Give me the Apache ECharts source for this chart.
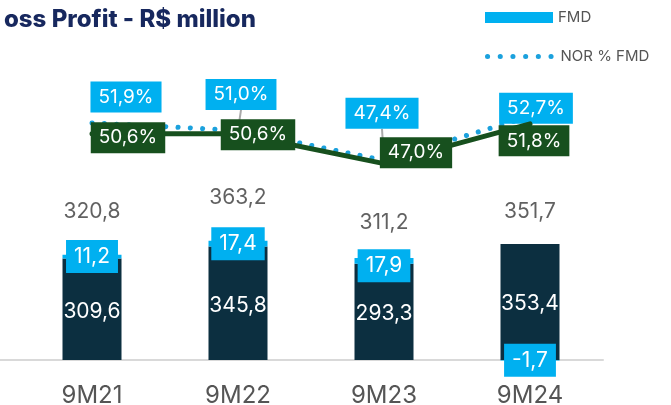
<!DOCTYPE html>
<html>
<head>
<meta charset="utf-8">
<script src="https://cdn.jsdelivr.net/npm/echarts@6/dist/echarts.min.js"></script>
<style>
  html, body { margin: 0; padding: 0; background: #fff; }
  #chart { width: 671px; height: 405px; }
</style>
</head>
<body>
<div id="chart"></div>
<script>
// data
const categories = ["9M21", "9M22", "9M23", "9M24"];
const baseValues = [309.6, 345.8, 293.3, 353.4];
const fmdValues = [11.2, 17.4, 17.9, -1.7];
const totalValues = [320.8, 363.2, 311.2, 351.7];
const norFmdPct = [51.9, 51.0, 47.4, 52.7];
const marginPct = [50.6, 50.6, 47.0, 51.8];

// label nudges (layout only)
const totalShift = [-43, -43, -35, -33];
const fmdShift = [0, 0, 5, 0];
const dotShift = [[34, -26], [3, -36], [-2, -47], [6, -8]];
const marginShift = [[36, 4], [20, 1], [32, -11], [4, 17]];

const NAVY = "#0c2f40";
const CYAN = "#00b0f0";
const DOT = "#1ba1dd";
const GREEN = "#17501e";
const AXIS = "#d9d9d9";
const FONT = "Inter";

function fmt(v, pct) {
  return v.toFixed(1).replace(".", ",") + (pct ? "%" : "");
}

let chart = echarts.init(document.getElementById("chart"));
chart.setOption({
  animation: false,
  textStyle: { fontFamily: FONT },
  title: {
    text: "oss Profit - R$ million",
    left: -1,
    top: 3,
    textStyle: { fontFamily: FONT, fontSize: 24, fontWeight: 800, color: "#17285e" },
  },
  legend: [
    {
      data: ["FMD"],
      left: 480,
      top: 5,
      icon: "rect",
      itemWidth: 68,
      itemHeight: 11,
      itemGap: 8,
      textStyle: { fontSize: 15, color: "#555" },
    },
    {
      data: [{ name: "NOR % FMD", itemStyle: { opacity: 0 } }],
      left: 480,
      top: 44,
      itemWidth: 68,
      itemHeight: 14,
      itemGap: 8,
      lineStyle: { width: 5, type: [0.1, 12.6], cap: "round", color: DOT },
      textStyle: { fontSize: 15, color: "#555" },
    },
  ],
  grid: { left: 19, width: 584, top: 32, height: 328, outerBoundsMode: "none", containLabel: false },
  xAxis: {
    type: "category",
    data: categories,
    axisTick: { show: false },
    axisLine: { show: true, lineStyle: { color: AXIS, width: 2 } },
    axisLabel: { fontSize: 24, color: "#555", margin: 24 },
  },
  yAxis: [
    { type: "value", min: 0, max: 1000, show: false },
    { type: "value", min: 23.34, max: 62.86, show: false },
  ],
  series: [
    {
      name: "Base",
      type: "bar",
      stack: "gp",
      barWidth: 59,
      clip: false,
      data: baseValues,
      itemStyle: { color: NAVY },
      label: {
        show: true,
        position: "inside",
        offset: [0, 2],
        color: "#fff",
        fontSize: 21,
        formatter: (p) => fmt(p.value),
      },
    },
    {
      name: "FMD",
      type: "bar",
      stack: "gp",
      barWidth: 59,
      clip: false,
      data: fmdValues,
      itemStyle: { color: CYAN },
      label: {
        show: true,
        position: "inside",
        color: "#fff",
        fontSize: 21,
        backgroundColor: CYAN,
        padding: [6, 8],
        formatter: (p) => fmt(p.value),
      },
      labelLayout: (p) => ({ dy: fmdShift[p.dataIndex] }),
    },
    {
      name: "Total",
      type: "scatter",
      symbolSize: 1,
      data: totalValues,
      itemStyle: { color: "rgba(0,0,0,0)" },
      label: {
        show: true,
        position: "inside",
        color: "#3a3a3a",
        fontSize: 21,
        formatter: (p) => fmt(p.value),
      },
      labelLayout: (p) => ({ dy: totalShift[p.dataIndex] }),
    },
    {
      name: "NOR % FMD",
      type: "line",
      yAxisIndex: 1,
      symbol: "circle",
      symbolSize: 2,
      data: norFmdPct.map((v, i) => ({
        value: v,
        labelLine: { show: i === 1 || i === 2 },
      })),
      itemStyle: { color: DOT },
      lineStyle: { color: DOT, width: 5, type: [0.1, 12.2], cap: "round" },
      label: {
        show: true,
        position: "inside",
        color: "#fff",
        fontSize: 19,
        backgroundColor: CYAN,
        padding: [6, 8],
        formatter: (p) => fmt(p.value, true),
      },
      labelLine: { show: false, lineStyle: { color: "#aaa", width: 2 } },
      labelLayout: (p) => ({ dx: dotShift[p.dataIndex][0], dy: dotShift[p.dataIndex][1] }),
      z: 3,
    },
    {
      name: "Margin",
      type: "line",
      yAxisIndex: 1,
      symbol: "circle",
      symbolSize: 2,
      data: marginPct,
      itemStyle: { color: GREEN },
      lineStyle: { color: GREEN, width: 5, cap: "round" },
      label: {
        show: true,
        position: "inside",
        color: "#fff",
        fontSize: 19,
        backgroundColor: GREEN,
        padding: [6, 8],
        formatter: (p) => fmt(p.value, true),
      },
      labelLayout: (p) => ({ dx: marginShift[p.dataIndex][0], dy: marginShift[p.dataIndex][1] }),
      z: 4,
    },
  ],
});

// the baseline runs on to the left edge of the picture
let zeroY = chart.convertToPixel({ yAxisIndex: 0 }, 0);
let gridLeft = chart.convertToPixel({ xAxisIndex: 0 }, categories[0]) - 73;
chart.setOption({
  graphic: [
    {
      type: "line",
      shape: { x1: 0, y1: zeroY, x2: gridLeft, y2: zeroY },
      style: { stroke: AXIS, lineWidth: 2 },
      silent: true,
    },
  ],
});
</script>
</body>
</html>
